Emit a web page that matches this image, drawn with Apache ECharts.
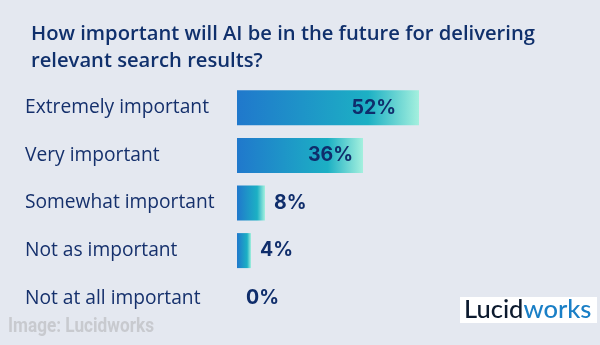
<!DOCTYPE html>
<html>
<head>
<meta charset="utf-8">
<script src="https://cdn.jsdelivr.net/npm/echarts@6/dist/echarts.min.js"></script>
<style>
html,body{margin:0;padding:0;background:#e4e8f0;}
#c{width:600px;height:345px;}
</style>
</head>
<body>
<div id="c"></div>
<script>
var titleText = 'How important will AI be in the future for delivering\nrelevant search results?';
var categories = ['Extremely important', 'Very important', 'Somewhat important', 'Not as important', 'Not at all important'];
var values = [52, 36, 8, 4, 0];
var sourceText = 'Image: Lucidworks';

var chart = echarts.init(document.getElementById('c'));
var barGradient = new echarts.graphic.LinearGradient(0, 0, 1, 0, [
  {offset: 0, color: '#2078cc'},
  {offset: 0.72, color: '#1cb0c4'},
  {offset: 1, color: '#a4f0de'}
]);
var data = values.map(function (v) {
  var inside = v > 20;
  return {
    value: v,
    label: {
      position: inside ? 'insideRight' : 'right',
      distance: inside ? (v > 45 ? 23 : 10) : 9
    }
  };
});

chart.setOption({
  backgroundColor: '#e4e8f0',
  animation: false,
  title: {
    text: titleText,
    left: 26,
    top: 16,
    textStyle: {
      fontFamily: 'Open Sans',
      fontSize: 20.2,
      fontWeight: 600,
      lineHeight: 27,
      color: '#10306c'
    }
  },
  grid: {left: 237, right: 13, top: 84, bottom: 23, containLabel: false},
  xAxis: {
    type: 'value', min: 0, max: 100, show: false
  },
  yAxis: {
    type: 'category',
    data: categories,
    inverse: true,
    axisLine: {show: false},
    axisTick: {show: false},
    splitLine: {show: false},
    axisLabel: {
      align: 'left',
      margin: 212,
      fontFamily: 'Open Sans',
      fontSize: 19.2,
      color: '#15306c'
    }
  },
  series: [{
    type: 'bar',
    data: data,
    barWidth: 35,
    itemStyle: {color: barGradient},
    label: {
      show: true,
      formatter: '{c}%',
      fontFamily: 'Inter',
      fontWeight: 'bold',
      fontSize: 19.5,
      color: '#0f2d6b'
    }
  }],
  graphic: [
    {
      type: 'text', left: 8, top: 317,
      scaleX: 0.86,
      style: {
        text: sourceText,
        fontFamily: 'Roboto',
        fontWeight: 'bold',
        fontSize: 20,
        fill: '#c8cacf'
      }
    },
    {
      type: 'group', left: 460, top: 297,
      children: [
        {type: 'rect', shape: {x: 0, y: 0, width: 137, height: 26}, style: {fill: '#ffffff'}},
        {
          type: 'text', x: 4, y: 0,
          style: {
            text: '{a|Lucid}{b|works}',
            rich: {
              a: {fontFamily: 'Lato', fontSize: 25.5, fontWeight: 500, fill: '#0c1a2e'},
              b: {fontFamily: 'Lato', fontSize: 25.5, fontWeight: 500, fill: '#1a7fc6'}
            }
          }
        }
      ]
    }
  ]
});
</script>
</body>
</html>
